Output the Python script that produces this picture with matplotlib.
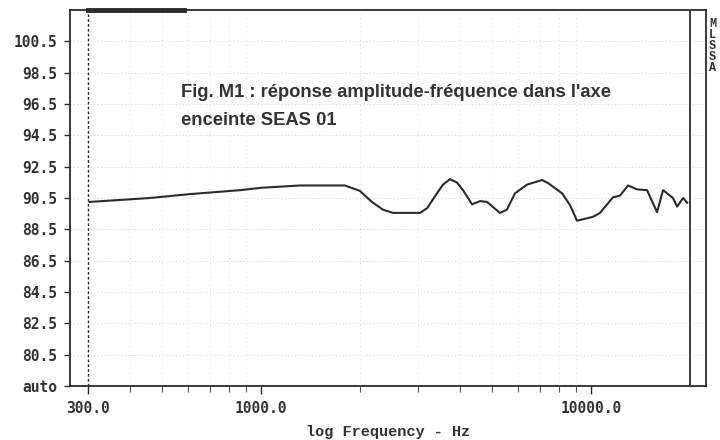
import matplotlib
matplotlib.use("Agg")
import matplotlib.pyplot as plt
from matplotlib.ticker import FixedLocator, FixedFormatter, NullFormatter

freq_hz = [303, 461, 610, 864, 1000, 1313, 1797, 1995, 2168, 2344, 2512,
           3034, 3188, 3415, 3560, 3738, 3920, 4094, 4360, 4610, 4840, 5297,
           5560, 5884, 6397, 7108, 7413, 8170, 8635, 9070, 10140, 10650,
           11660, 12240, 12950, 13780, 14780, 15850, 16530, 17710, 18230,
           19010, 19550]
level_db = [90.25, 90.5, 90.75, 91.0, 91.15, 91.3, 91.3, 90.95, 90.25, 89.75,
            89.55, 89.55, 89.85, 90.8, 91.35, 91.7, 91.5, 91.0, 90.1, 90.3,
            90.25, 89.55, 89.75, 90.8, 91.35, 91.65, 91.45, 90.8, 90.05, 89.05,
            89.3, 89.55, 90.55, 90.65, 91.3, 91.05, 91.0, 89.6, 91.0, 90.5,
            89.95, 90.5, 90.2]

y_ticks = [78.5, 80.5, 82.5, 84.5, 86.5, 88.5, 90.5, 92.5, 94.5, 96.5, 98.5, 100.5]
y_labels = ["auto", "80.5", "82.5", "84.5", "86.5", "88.5", "90.5",
            "92.5", "94.5", "96.5", "98.5", "100.5"]
x_ticks = [300, 1000, 10000]
x_labels = ["300.0", "1000.0", "10000.0"]
x_minor = [400, 500, 600, 700, 800, 900,
           2000, 3000, 4000, 5000, 6000, 7000, 8000, 9000]
side_letters = ["M", "L", "S", "S", "A"]

W, H = 720, 440
ink = "#2b2b2b"
mono = "DejaVu Sans Mono"

fig = plt.figure(figsize=(W / 100, H / 100), dpi=100)
fig.patch.set_facecolor("white")
ax = fig.add_axes([70 / W, 1 - 386 / H, (706 - 70) / W, (386 - 10) / H])

ax.set_xscale("log")
ax.set_xlim(264, 22300)
ax.set_ylim(78.5, 102.5)

# grille pointillée très pâle
for y in y_ticks[1:]:
    ax.axhline(y, color="#d6d6d6", lw=0.7, ls=(0, (1, 2.5)), zorder=1)
for f in x_minor:
    ax.axvline(f, color="#dedede", lw=0.7, ls=(0, (1, 3.5)), zorder=1)

# repère 300 Hz et limite 20 kHz
ax.axvline(300, color=ink, lw=1.0, ls=(0, (2, 1.5)), zorder=2)
ax.axvline(20000, color=ink, lw=1.3, zorder=2)
# trait épais en haut du cadre (relevé original)
ax.axhline(102.5, xmin=0.028, xmax=0.18, color=ink, lw=3.5, clip_on=False)

ax.plot(freq_hz, level_db, color=ink, lw=1.5, zorder=3)

ax.yaxis.set_major_locator(FixedLocator(y_ticks))
ax.yaxis.set_major_formatter(FixedFormatter(y_labels))
ax.xaxis.set_major_locator(FixedLocator(x_ticks))
ax.xaxis.set_major_formatter(FixedFormatter(x_labels))
ax.xaxis.set_minor_locator(FixedLocator(x_minor))
ax.xaxis.set_minor_formatter(NullFormatter())
ax.yaxis.set_minor_locator(FixedLocator([]))

ax.tick_params(axis="y", direction="out", length=4, width=1.0, color=ink,
               pad=5, labelsize=10.5, labelcolor="#333333")
ax.tick_params(axis="x", which="major", direction="out", length=6, width=1.0,
               color=ink, pad=5, labelsize=10.5, labelcolor="#333333")
ax.tick_params(axis="x", which="minor", direction="out", length=4, width=0.8,
               color="#555555")
for lab in ax.get_xticklabels() + ax.get_yticklabels():
    lab.set_fontfamily(mono)
    lab.set_fontweight("bold")

for s in ax.spines.values():
    s.set_color(ink)
    s.set_linewidth(1.3)

ax.set_xlabel("log Frequency - Hz", fontfamily="Liberation Mono",
              fontweight="bold", fontsize=11, color="#333333", labelpad=6)

# légende de la figure
title_kw = dict(fontfamily="Liberation Sans", fontsize=13.2, color="#333333",
                fontweight="bold", va="baseline", ha="left")
fig.text(181 / W, 1 - 97 / H,
         "Fig. M1 : réponse amplitude-fréquence dans l'axe", **title_kw)
fig.text(181 / W, 1 - 125 / H, "enceinte SEAS 01", **title_kw)

fig.text(709 / W, 1 - 18 / H, "\n".join(side_letters),
         fontfamily="Liberation Mono", fontweight="bold", fontsize=8.5,
         color="#333333", va="top", linespacing=0.88)

fig.savefig("out.png", dpi=100, facecolor="white")
